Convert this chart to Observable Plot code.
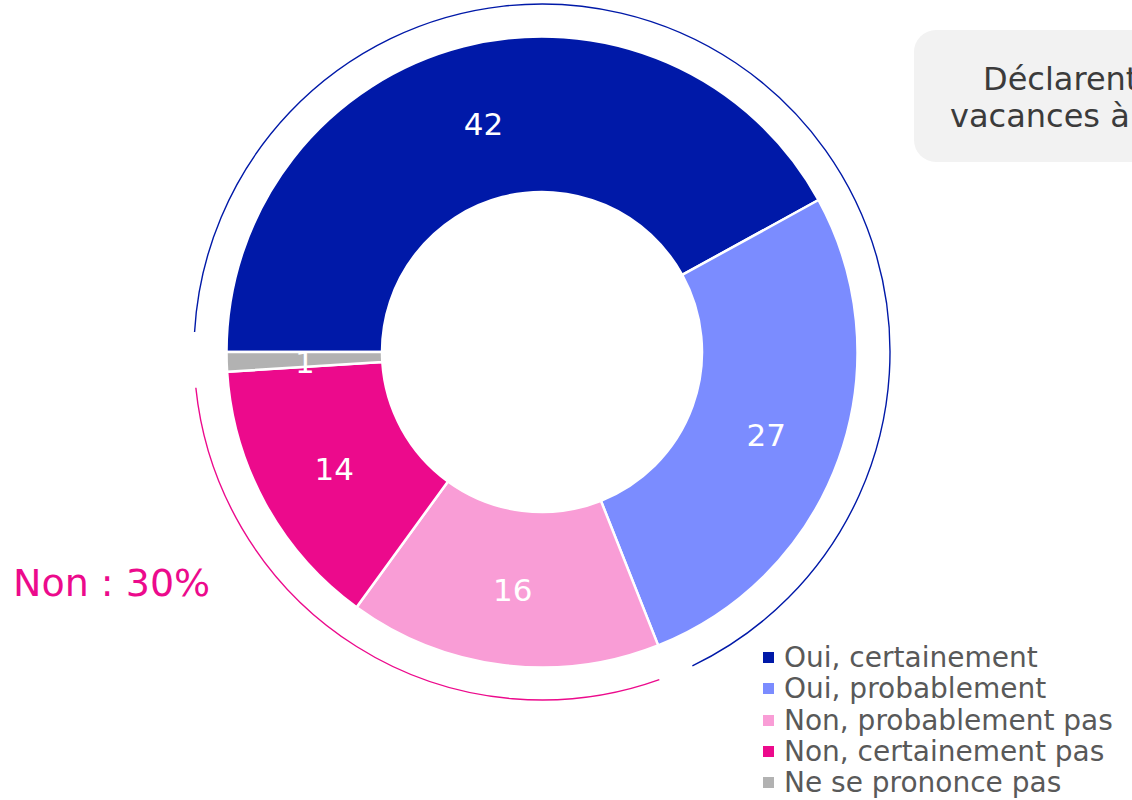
<!DOCTYPE html>
<html><head><meta charset="utf-8">
<script src="https://cdn.jsdelivr.net/npm/d3@7"></script>
<script src="https://cdn.jsdelivr.net/npm/@observablehq/plot@0.6"></script>
<style>
body{margin:0;background:#fff;font-family:"DejaVu Sans",sans-serif;}
#wrap{position:relative;width:1132px;height:800px;overflow:hidden;}
#wrap svg{position:absolute;left:0;top:0;}
.titlebox{position:absolute;left:914px;top:30px;width:320px;height:132px;border-radius:22px;background:#f2f2f2;}
.tline{position:absolute;font-size:32px;color:#3b3b3b;white-space:nowrap;line-height:38px;}
.grouplabel{position:absolute;left:13px;top:561px;font-size:38px;line-height:44px;white-space:nowrap;}
.legend{position:absolute;left:763px;top:642px;}
.legend .row{height:31.3px;line-height:31.3px;font-size:28px;color:#595959;white-space:nowrap;display:flex;align-items:center;}
.legend .sw{width:11px;height:11px;margin-right:10px;flex:none;}
</style></head><body><div id="wrap"></div>
<script>
// ---- data ----
const categories = ["Oui, certainement","Oui, probablement","Non, probablement pas","Non, certainement pas","Ne se prononce pas"];
const values = [42, 27, 16, 14, 1];
const colors = ["#0019a8","#7b8cff","#f99dd6","#ec0a8c","#b2b2b2"];
const groupNames = ["Oui","Non"];
const groupMembers = [[0,1],[2,3]];
const groupColors = ["#0019a8","#ec0a8c"];
const titleLines = ["Déclarent","vacances à"];

// ---- layout constants ----
const W = 1132, H = 800;
const R = 315.5, CX = 542, CY = 352;        // pixel geometry of donut
const innerFrac = 160 / R, ringFrac = 348 / R;
const startAngle = -Math.PI / 2;             // slices start at 9 o'clock
const groupPadStart = [3.3, 1.9], groupPadEnd = [4.0, 2.3]; // degrees

const pie = d3.pie().sort(null).startAngle(startAngle).endAngle(startAngle + 2 * Math.PI)(values);

const labelData = pie.map((d, i) => {
  const a = (d.startAngle + d.endAngle) / 2, r = (innerFrac + 1) / 2;
  return {x: r * Math.sin(a), y: r * Math.cos(a), label: String(values[i]), i};
});

const groups = groupMembers.map((m, g) => {
  const a0 = pie[m[0]].startAngle, a1 = pie[m[m.length - 1]].endAngle;
  return {a0: a0 + groupPadStart[g] * Math.PI / 180, a1: a1 - groupPadEnd[g] * Math.PI / 180, color: groupColors[g],
          value: d3.sum(m, j => values[j]), name: groupNames[g]};
});

function donut(index, scales) {
  const cx = scales.x(0), cy = scales.y(0), k = scales.x(1) - scales.x(0);
  const g = d3.create("svg:g").attr("transform", `translate(${cx},${cy})`);
  const arc = d3.arc().innerRadius(innerFrac * k).outerRadius(k);
  g.selectAll("path").data(pie).join("path")
    .attr("d", arc).attr("fill", (d, i) => colors[i])
    .attr("stroke", "#fff").attr("stroke-width", 2.5).attr("stroke-linejoin", "round");
  return g.node();
}

function rings(index, scales) {
  const cx = scales.x(0), cy = scales.y(0), k = scales.x(1) - scales.x(0);
  const g = d3.create("svg:g").attr("transform", `translate(${cx},${cy})`);
  for (const gr of groups) {
    const p = d3.path(), r = ringFrac * k;
    p.moveTo(r * Math.cos(gr.a0 - Math.PI / 2), r * Math.sin(gr.a0 - Math.PI / 2));
    p.arc(0, 0, r, gr.a0 - Math.PI / 2, gr.a1 - Math.PI / 2, false);
    g.append("path").attr("d", p.toString()).attr("fill", "none")
      .attr("stroke", gr.color).attr("stroke-width", 1.4);
  }
  return g.node();
}

const plot = Plot.plot({
  width: W, height: H, margin: 0,
  style: {background: "transparent", overflow: "visible"},
  x: {domain: [-CX / R, (W - CX) / R], range: [0, W], axis: null},
  y: {domain: [-(H - CY) / R, CY / R], range: [H, 0], axis: null},
  marks: [
    donut,
    rings,
    Plot.text(labelData, {x: "x", y: "y", text: "label", fill: "#fff",
      fontSize: 31, fontFamily: "DejaVu Sans", dy: 3})
  ]
});

const wrap = document.getElementById("wrap");
wrap.appendChild(plot);

// title box (clipped by page edge)
const tb = document.createElement("div"); tb.className = "titlebox"; wrap.appendChild(tb);
[[983, 60], [950, 97]].forEach(([l, t], i) => {
  const s = document.createElement("div"); s.className = "tline";
  s.style.left = l + "px"; s.style.top = t + "px"; s.textContent = titleLines[i]; wrap.appendChild(s);
});

// group label
const gl = document.createElement("div"); gl.className = "grouplabel";
gl.style.color = groups[1].color;
gl.textContent = `${groups[1].name} : ${groups[1].value}%`;
wrap.appendChild(gl);

// legend
const lg = document.createElement("div"); lg.className = "legend";
categories.forEach((c, i) => {
  const row = document.createElement("div"); row.className = "row";
  const sw = document.createElement("span"); sw.className = "sw"; sw.style.background = colors[i];
  const tx = document.createElement("span"); tx.textContent = c;
  row.appendChild(sw); row.appendChild(tx); lg.appendChild(row);
});
wrap.appendChild(lg);
</script></body></html>
